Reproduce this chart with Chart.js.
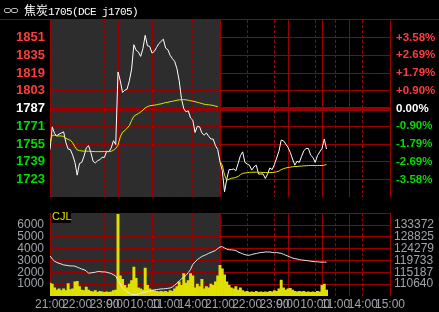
<!DOCTYPE html>
<html>
<head>
<meta charset="utf-8">
<script src="https://cdn.jsdelivr.net/npm/chart.js@4.4.1/dist/chart.umd.min.js"></script>
<style>
  html, body { margin: 0; padding: 0; background: #000; overflow: hidden; }
  #wrap { position: relative; width: 439px; height: 312px; }
  canvas { position: absolute; left: 0; }
  #priceChart { top: 0; }
  #volChart { top: 200px; }
  #title { position: absolute; left: 24px; top: 3px; color: #fff; font-size: 12px; line-height: 14px; white-space: nowrap; }
  #title .cn { font-family: "Noto Sans CJK SC"; }
  #title .code { font-family: "Liberation Mono", monospace; font-size: 11px; letter-spacing: -0.6px; }
  .link { position: absolute; top: 8px; width: 5px; height: 3px; border: 1px solid #b4b4b4; border-radius: 2px; }
  #cjl { position: absolute; left: 51px; top: 210px; width: 19px; height: 13px; background: #000;
         color: #e0e000; font: 11px "Liberation Sans", Arial, sans-serif; line-height: 13px; padding-left: 1px; }
</style>
</head>
<body>
<div id="wrap">
  <canvas id="priceChart" width="439" height="210"></canvas>
  <canvas id="volChart" width="439" height="112"></canvas>
  <div class="link" style="left:4px"></div>
  <div class="link" style="left:11px"></div>
  <div id="title"><span class="cn">焦炭</span><span class="code">1705(DCE j1705)</span></div>
  <div id="cjl">CJL</div>
</div>
<script>
// =====================
// DATA
// =====================
const basePrice = 1787;      // previous settlement
const sampleStep = 5;        // minutes between samples
const daySplit = 375;        // trading minutes per day (21:00 -> 15:00)
const sessionEnd = 750;

const timeTicks  = [0, 60, 120, 150, 210, 255, 315, 375, 435, 495, 525, 585, 630, 690, 750];
const timeLabels = ["21:00", "22:00", "23:00", "9:00", "10:00", "11:00", "14:00",
                    "21:00", "22:00", "23:00", "9:00", "10:00", "11:00", "14:00", "15:00"];
const solidMinutes  = [0, 150, 225, 285, 375, 525, 600, 660, 750];
const dashedMinutes = [60, 120, 210, 255, 315, 435, 495, 585, 630, 690];

const priceTicks  = [1723, 1739, 1755, 1771, 1787, 1803, 1819, 1835, 1851];
const volumeTicks = [1000, 2000, 3000, 4000, 5000, 6000];
const volumeGrid  = [1000, 2000, 3000, 4000, 5000, 6000, 7000];
const oiTicks     = [110640, 115187, 119733, 124279, 128825, 133372];

// previous day (gray part)
const pricePrev = [
  1750, 1770.5, 1764.5, 1762.5, 1764, 1765, 1766, 1756.5, 1750.5, 1750,
  1745, 1738.5, 1727, 1737.5, 1738.5, 1744, 1751.5, 1753.5, 1747.5, 1739.5,
  1738, 1740, 1741, 1743, 1743, 1748.5, 1748, 1751.5, 1758, 1754.5,
  1820, 1812, 1801.5, 1803.5, 1804.5, 1812, 1822.5, 1844.5, 1839.5, 1838,
  1834, 1841, 1853, 1843.5, 1843, 1837, 1838.5, 1842, 1845.5, 1847.5,
  1849.5, 1841.5, 1840, 1835, 1832, 1829.5, 1823, 1812, 1796, 1787,
  1784, 1785, 1778.5, 1776.5, 1765.5, 1771, 1770.5, 1765, 1763, 1765,
  1762, 1759.5, 1759.5, 1753.5, 1750
];
// current day
const priceCur = [
  1739, 1731, 1712, 1723.5, 1732, 1732, 1732.5, 1731, 1737.5, 1744.5,
  1748, 1738.5, 1737, 1736, 1731.5, 1734.5, 1736, 1728, 1728, 1728,
  1724, 1728, 1733.5, 1732, 1736.5, 1742.5, 1748.5, 1758.5, 1758, 1755,
  1752, 1747.5, 1741.5, 1736, 1739.5, 1738.5, 1744, 1749, 1751, 1751,
  1745, 1743, 1738.5, 1744.5, 1748, 1751, 1759.5, 1750.5
];
const avgPrev = [
  1756.5, 1763, 1763, 1762.3, 1762.3, 1762.3, 1761.7, 1760.3, 1759.2, 1758.4,
  1756.1, 1752.5, 1749.7, 1749.1, 1748.8, 1748.6, 1748.6, 1748.5, 1748.4, 1748.3,
  1748.2, 1748.2, 1748.2, 1748.2, 1748.3, 1748.3, 1748.4, 1748.5, 1749.5, 1751,
  1754, 1761.5, 1765.7, 1767.1, 1769.3, 1771.6, 1776.3, 1780, 1781.4, 1782.5,
  1783.9, 1785.6, 1787.6, 1788.7, 1789.5, 1789.8, 1790.1, 1790.4, 1790.9, 1791.2,
  1791.8, 1792.4, 1792.6, 1793.2, 1793.5, 1794, 1794.5, 1794.8, 1795.1, 1795.1,
  1794.8, 1794.5, 1794, 1793.7, 1793.2, 1792.6, 1792.1, 1791.5, 1790.9, 1790.6,
  1790.4, 1790.1, 1789.8, 1789.2, 1788.7
];
const avgCur = [
  1739.5, 1736, 1727, 1722.5, 1723.3, 1724.2, 1724.4, 1725, 1725.8, 1727.5,
  1728.6, 1728.9, 1729.2, 1729.5, 1729.6, 1729.6, 1729.7, 1729.6, 1729.5, 1729.4,
  1729.3, 1729.3, 1729.4, 1729.4, 1729.5, 1730, 1730.6, 1732, 1732.8, 1733.4,
  1733.9, 1734.2, 1734.5, 1734.8, 1734.8, 1735.1, 1735.1, 1735.4, 1735.4, 1735.7,
  1735.7, 1735.7, 1735.7, 1735.7, 1735.7, 1735.7, 1736, 1736.5
];
const volumes = [
  1100, 1000, 700, 500, 600, 450, 600, 450, 1050, 550,
  600, 1200, 1250, 800, 500, 450, 750, 500, 400, 350,
  450, 300, 400, 350, 300, 350, 300, 350, 450, 500,
  6900, 1700, 1400, 900, 700, 1000, 1300, 2450, 1500, 700,
  600, 500, 2350, 900, 600, 500, 450, 400, 350, 400,
  350, 400, 300, 450, 400, 600, 800, 1200, 900, 1900,
  1100, 1300, 1900, 1700, 700, 1000, 800, 1400, 600, 800,
  700, 1000, 900, 1200, 1700, 2600, 2300, 1800, 1200, 900,
  700, 600, 800, 500, 700, 450, 350, 400, 300, 350,
  300, 400, 300, 350, 300, 350, 300, 400, 350, 450,
  400, 600, 1350, 700, 500, 600, 650, 500, 400, 350,
  400, 350, 400, 300, 350, 300, 350, 300, 400, 350,
  900, 1000, 500
];
const openInterest = [
  121551, 120315, 119478, 119005, 118642, 118387, 118023, 117914, 117769, 117660,
  117660, 117551, 117187, 116823, 116459, 116205, 115732, 114859, 114980, 115114,
  115223, 115477, 115477, 115356, 115356, 115223, 114980, 114750, 114277, 113768,
  112204, 110640, 109185, 108313, 107731, 107222, 106640, 106640, 106640, 106858,
  107222, 107476, 107585, 107840, 107961, 108203, 108458, 108567, 108688, 108822,
  108822, 108943, 109040, 109185, 109549, 110277, 111004, 111840, 112677, 113295,
  114023, 115114, 116314, 118278, 119114, 120096, 120678, 121297, 121660, 122024,
  122497, 122861, 123224, 123588, 124315, 124934, 125043, 124570, 124097, 123843,
  123843, 123722, 123588, 123006, 122642, 122279, 122024, 121770, 121770, 122024,
  122279, 122388, 122642, 122861, 122861, 123006, 123006, 123006, 122861, 122751,
  122751, 122642, 122497, 122133, 121770, 121406, 121042, 120678, 120460, 120315,
  120096, 119951, 119830, 119733, 119612, 119478, 119369, 119248, 119248, 119114,
  119114, 119114, 119114
];

// =====================
// STYLE
// =====================
const GRID_RED = "#9a0000";
const PREV_BG = "#2d2d2d";
const UP = "#ff3c3c", DOWN = "#00dc00", FLAT = "#ffffff";
const AXIS_GRAY = "#a0a4ac";
const FONT = '"Liberation Sans", Arial, sans-serif';

const priceSpan = 79.8;
const oiStep = (oiTicks[5] - oiTicks[0]) / 5;
const oiMin = oiTicks[0] - oiStep;
const oiMax = oiTicks[0] + 6 * oiStep;

const priceColor = v => v > basePrice ? UP : (v < basePrice ? DOWN : FLAT);
const pct = v => {
  const p = (v - basePrice) / basePrice * 100;
  return (p > 0 ? "+" : "") + p.toFixed(2) + "%";
};
const pts = (arr, start) => arr.map((v, i) => ({ x: start + i * sampleStep, y: v }));
const fixTicks = list => scale => { scale.ticks = list.map(v => ({ value: v })); };
const fixWidth = w => scale => { scale.width = w; };

// =====================
// GRID PLUGIN
// =====================
const panelGrid = {
  id: "panelGrid",
  beforeDatasetsDraw(chart, args, opts) {
    const { ctx, chartArea: a, scales } = chart;
    const x = scales.x, y = scales[opts.yId];
    ctx.save();

    const xd = x.getPixelForValue(daySplit);
    ctx.fillStyle = PREV_BG;
    ctx.fillRect(a.left, a.top, Math.floor(xd) - a.left, a.bottom - a.top);

    ctx.strokeStyle = GRID_RED;
    ctx.lineWidth = 1;
    opts.levels.forEach(v => {
      const py = Math.floor(y.getPixelForValue(v)) + 0.5;
      ctx.beginPath(); ctx.moveTo(a.left, py); ctx.lineTo(a.right + 1, py); ctx.stroke();
    });
    if (opts.thick !== undefined) {
      const py = Math.floor(y.getPixelForValue(opts.thick));
      ctx.fillStyle = GRID_RED;
      ctx.fillRect(a.left, py - 1, a.right - a.left, 4);
    }

    solidMinutes.forEach(m => {
      const px = Math.floor(x.getPixelForValue(m)) + 0.5;
      ctx.beginPath(); ctx.moveTo(px, a.top); ctx.lineTo(px, a.bottom); ctx.stroke();
    });
    ctx.setLineDash([3, 2]);
    dashedMinutes.forEach(m => {
      const px = Math.floor(x.getPixelForValue(m)) + 0.5;
      ctx.beginPath(); ctx.moveTo(px, a.top); ctx.lineTo(px, a.bottom); ctx.stroke();
    });
    ctx.setLineDash([]);

    if (opts.topBorder) {
      ctx.fillStyle = GRID_RED;
      ctx.fillRect(0, a.top - 1, chart.width, 1);
    }
    ctx.restore();
  }
};

// =====================
// PRICE CHART
// =====================
new Chart(document.getElementById("priceChart"), {
  type: "line",
  data: {
    datasets: [
      { data: pts(avgPrev, 0), borderColor: "#e6e600", borderWidth: 1, pointRadius: 0 },
      { data: pts(avgCur, daySplit), borderColor: "#e6e600", borderWidth: 1, pointRadius: 0 },
      { data: pts(pricePrev.concat(priceCur), 0), borderColor: "#ffffff", borderWidth: 1, pointRadius: 0 }
    ]
  },
  options: {
    responsive: false,
    animation: false,
    events: [],
    layout: { padding: { top: 20, bottom: 1, left: 0, right: 0 } },
    plugins: {
      legend: { display: false },
      tooltip: { enabled: false },
      panelGrid: { yId: "y", levels: priceTicks.filter(v => v !== basePrice), thick: basePrice, topBorder: true }
    },
    scales: {
      x: { type: "linear", min: 0, max: sessionEnd, display: false },
      y: {
        position: "left",
        min: basePrice - priceSpan, max: basePrice + priceSpan,
        afterBuildTicks: fixTicks(priceTicks),
        afterFit: fixWidth(50),
        grid: { display: false, drawTicks: false },
        border: { display: false },
        ticks: {
          autoSkip: false, padding: 5,
          color: c => priceColor(c.tick.value),
          font: { family: FONT, size: 13, weight: "bold" },
          callback: v => String(v)
        }
      },
      y2: {
        position: "right",
        min: basePrice - priceSpan, max: basePrice + priceSpan,
        afterBuildTicks: fixTicks(priceTicks),
        afterFit: fixWidth(49),
        grid: { display: false, drawTicks: false },
        border: { display: false },
        ticks: {
          autoSkip: false, padding: 6,
          color: c => priceColor(c.tick.value),
          font: { family: FONT, size: 11.5, weight: "bold" },
          callback: v => pct(v)
        }
      }
    }
  },
  plugins: [panelGrid]
});

// =====================
// VOLUME / OPEN INTEREST CHART
// =====================
new Chart(document.getElementById("volChart"), {
  type: "bar",
  data: {
    datasets: [
      { type: "line", data: pts(openInterest, 0), yAxisID: "y2", borderColor: "#e8e8e8", borderWidth: 1, pointRadius: 0 },
      { data: pts(volumes, 0), yAxisID: "y", backgroundColor: "#e0e000", borderWidth: 0,
        barPercentage: 1, categoryPercentage: 1, grouped: false }
    ]
  },
  options: {
    responsive: false,
    animation: false,
    events: [],
    layout: { padding: { top: 8, bottom: 0, left: 0, right: 0 } },
    plugins: {
      legend: { display: false },
      tooltip: { enabled: false },
      panelGrid: { yId: "y", levels: volumeGrid }
    },
    scales: {
      x: {
        type: "linear", min: 0, max: sessionEnd, offset: false,
        afterBuildTicks: fixTicks(timeTicks),
        afterFit: s => { s.height = 16; },
        grid: { display: false, drawTicks: false },
        border: { display: false },
        ticks: {
          autoSkip: false, maxRotation: 0, minRotation: 0, padding: 1,
          color: AXIS_GRAY, font: { family: FONT, size: 12 },
          callback: (v, i) => timeLabels[i]
        }
      },
      y: {
        position: "left", min: 0, max: 7000,
        afterBuildTicks: fixTicks(volumeTicks),
        afterFit: fixWidth(50),
        grid: { display: false, drawTicks: false },
        border: { display: false },
        ticks: { autoSkip: false, padding: 6, color: AXIS_GRAY, font: { family: FONT, size: 12 },
                 callback: v => String(v) }
      },
      y2: {
        position: "right", min: oiMin, max: oiMax,
        afterBuildTicks: fixTicks(oiTicks),
        afterFit: fixWidth(49),
        grid: { display: false, drawTicks: false },
        border: { display: false },
        ticks: { autoSkip: false, padding: 4, color: AXIS_GRAY, font: { family: FONT, size: 12 },
                 callback: v => String(Math.round(v)) }
      }
    }
  },
  plugins: [panelGrid]
});
</script>
</body>
</html>
